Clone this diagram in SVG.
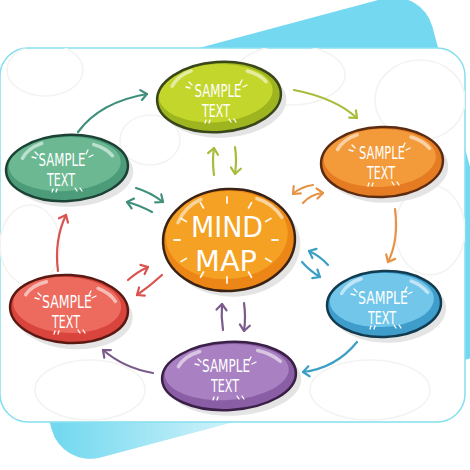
<svg xmlns="http://www.w3.org/2000/svg" width="470" height="470" viewBox="0 0 470 470">
<defs>
<style>
.card{fill:#ffffff;stroke:#86dff0;stroke-width:1.5}
.doodle{fill:none;stroke:#f3f3f1;stroke-width:1.6}
.shadow{fill:#e4e4e4}
.outline{fill:none;stroke-width:2.5}
.hl{fill:none;stroke:#ffffff;stroke-opacity:0.55;stroke-width:3.5;stroke-linecap:round}
.spark{fill:none;stroke:#ffffff;stroke-width:1.3;stroke-linecap:round}
.lbl{fill:#ffffff;font-family:"Liberation Sans Narrow","DejaVu Sans Condensed","Liberation Sans",sans-serif;font-size:18px;text-anchor:middle}
.big{font-size:29px}
.con{fill:none;stroke-width:2.2;stroke-linecap:round}
.tick{stroke:#ffffff;stroke-width:1.8;stroke-linecap:round;stroke-opacity:0.9}
</style>
<linearGradient id="fadeg" gradientUnits="userSpaceOnUse" x1="60" y1="0" x2="280" y2="0">
<stop offset="0" stop-color="#ffffff" stop-opacity="0"/>
<stop offset="1" stop-color="#ffffff" stop-opacity="0.85"/>
</linearGradient>
<clipPath id="bgclip"><rect x="6" y="43" width="472" height="370" rx="40" transform="rotate(-15 242 228)"/></clipPath>
<clipPath id="cardclip"><rect x="0" y="48" width="465" height="374" rx="28"/></clipPath>
<marker id="m-teal" viewBox="-8 -7 10 14" markerWidth="10" markerHeight="14" refX="0" refY="0" orient="auto" markerUnits="userSpaceOnUse"><path d="M-6,-5 L0,0 L-6,5" fill="none" stroke="#3f8f7c" stroke-width="2.2" stroke-linecap="round" stroke-linejoin="round"/></marker>
<marker id="m-lime" viewBox="-8 -7 10 14" markerWidth="10" markerHeight="14" refX="0" refY="0" orient="auto" markerUnits="userSpaceOnUse"><path d="M-6,-5 L0,0 L-6,5" fill="none" stroke="#a6bd3c" stroke-width="2.2" stroke-linecap="round" stroke-linejoin="round"/></marker>
<marker id="m-orange" viewBox="-8 -7 10 14" markerWidth="10" markerHeight="14" refX="0" refY="0" orient="auto" markerUnits="userSpaceOnUse"><path d="M-6,-5 L0,0 L-6,5" fill="none" stroke="#e69345" stroke-width="2.2" stroke-linecap="round" stroke-linejoin="round"/></marker>
<marker id="m-blue" viewBox="-8 -7 10 14" markerWidth="10" markerHeight="14" refX="0" refY="0" orient="auto" markerUnits="userSpaceOnUse"><path d="M-6,-5 L0,0 L-6,5" fill="none" stroke="#3b9fc4" stroke-width="2.2" stroke-linecap="round" stroke-linejoin="round"/></marker>
<marker id="m-purple" viewBox="-8 -7 10 14" markerWidth="10" markerHeight="14" refX="0" refY="0" orient="auto" markerUnits="userSpaceOnUse"><path d="M-6,-5 L0,0 L-6,5" fill="none" stroke="#7b5a8c" stroke-width="2.2" stroke-linecap="round" stroke-linejoin="round"/></marker>
<marker id="m-red" viewBox="-8 -7 10 14" markerWidth="10" markerHeight="14" refX="0" refY="0" orient="auto" markerUnits="userSpaceOnUse"><path d="M-6,-5 L0,0 L-6,5" fill="none" stroke="#d9534f" stroke-width="2.2" stroke-linecap="round" stroke-linejoin="round"/></marker>
</defs>

<!-- background -->
<g id="backdrop">
<rect x="6" y="43" width="472" height="370" rx="40" transform="rotate(-15 242 228)" fill="#74d9f0"/>
<rect x="0" y="405" width="470" height="65" fill="url(#fadeg)" clip-path="url(#bgclip)"/>
<rect class="card" x="0" y="48" width="465" height="374" rx="28"/>
<g clip-path="url(#cardclip)">
<ellipse class="doodle" cx="45" cy="70" rx="38" ry="26"/>
<ellipse class="doodle" cx="290" cy="75" rx="55" ry="30"/>
<ellipse class="doodle" cx="420" cy="100" rx="45" ry="40"/>
<ellipse class="doodle" cx="30" cy="245" rx="30" ry="40"/>
<ellipse class="doodle" cx="430" cy="230" rx="35" ry="45"/>
<ellipse class="doodle" cx="90" cy="390" rx="55" ry="30"/>
<ellipse class="doodle" cx="370" cy="390" rx="60" ry="30"/>
<ellipse class="doodle" cx="150" cy="140" rx="30" ry="25"/>
</g>
</g>

<!-- connectors -->
<g id="connectors">
<path class="con" stroke="#3f8f7c" marker-end="url(#m-teal)" d="M78,132 Q100,102 147,94"/>
<path class="con" stroke="#a6bd3c" marker-end="url(#m-lime)" d="M294,90 Q335,98 357,118"/>
<path class="con" stroke="#e69345" marker-end="url(#m-orange)" d="M395,209 Q399,240 388,262"/>
<path class="con" stroke="#3b9fc4" marker-end="url(#m-blue)" d="M357,342 Q336,368 303,372"/>
<path class="con" stroke="#7b5a8c" marker-end="url(#m-purple)" d="M153,373 Q124,368 103,350"/>
<path class="con" stroke="#d9534f" marker-end="url(#m-red)" d="M58,271 Q54,240 66,215"/>
<path class="con" stroke="#a6bd3c" marker-end="url(#m-lime)" d="M214,175 Q212,160 214,148"/>
<path class="con" stroke="#a6bd3c" marker-end="url(#m-lime)" d="M235,147 Q237,160 235,174"/>
<path class="con" stroke="#3f8f7c" marker-end="url(#m-teal)" d="M136,188 Q150,192 163,202"/>
<path class="con" stroke="#3f8f7c" marker-end="url(#m-teal)" d="M152,212 Q139,205 127,202"/>
<path class="con" stroke="#e69345" marker-end="url(#m-orange)" d="M313,185 Q300,187 293,194"/>
<path class="con" stroke="#e69345" marker-end="url(#m-orange)" d="M303,203 Q311,194 323,193"/>
<path class="con" stroke="#3b9fc4" marker-end="url(#m-blue)" d="M328,265 Q320,256 309,251"/>
<path class="con" stroke="#3b9fc4" marker-end="url(#m-blue)" d="M302,262 Q310,271 320,277"/>
<path class="con" stroke="#d9534f" marker-end="url(#m-red)" d="M128,280 Q137,272 148,267"/>
<path class="con" stroke="#d9534f" marker-end="url(#m-red)" d="M162,275 Q150,286 137,295"/>
<path class="con" stroke="#7b5a8c" marker-end="url(#m-purple)" d="M223,330 Q221,317 222,304"/>
<path class="con" stroke="#7b5a8c" marker-end="url(#m-purple)" d="M244,303 Q246,317 244,331"/>
</g>

<!-- nodes -->
<g id="node-top" transform="translate(219,97)">
<g transform="rotate(-4)">
<ellipse class="shadow" cx="5" cy="6" rx="62" ry="35"/>
<ellipse cx="0" cy="0" rx="62" ry="35" fill="#9fb51f"/>
<ellipse cx="-3" cy="-4" rx="57" ry="29" fill="#c3d62c"/>
<ellipse class="outline" cx="0" cy="0" rx="62" ry="35" stroke="#38461a"/>
<path class="hl" d="M-46,-14 Q-40,-24 -26,-28"/>
<path class="hl" d="M30,-24 Q42,-20 48,-12"/>
</g>
<path class="spark" d="M-30,-15 l3,3 M-33,-10 l4,1 M23,-17 l-2,4 M28,-12 l-4,2 M-13,23 l-1,3 M-9,23 l-1,3 M10,22 l2,3 M15,22 l2,3"/>
<text class="lbl"><tspan x="-1" y="0" textLength="47" lengthAdjust="spacingAndGlyphs">SAMPLE</tspan><tspan x="-3" y="20" textLength="28" lengthAdjust="spacingAndGlyphs">TEXT</tspan></text>
</g>

<g id="node-left" transform="translate(67,168)">
<g transform="rotate(-3)">
<ellipse class="shadow" cx="5" cy="6" rx="61" ry="33"/>
<ellipse cx="0" cy="0" rx="61" ry="33" fill="#4c9c79"/>
<ellipse cx="-2" cy="-4" rx="56" ry="27" fill="#6bb892"/>
<ellipse class="outline" cx="0" cy="0" rx="61" ry="33" stroke="#1c4236"/>
<path class="hl" d="M-44,-12 Q-38,-22 -24,-26"/>
<path class="hl" d="M28,-22 Q40,-18 46,-10"/>
</g>
<path class="spark" d="M-32,-16 l3,3 M-35,-11 l4,1 M21,-18 l-2,4 M26,-13 l-4,2 M-14,21 l-1,3 M-10,21 l-1,3 M8,20 l2,3 M13,20 l2,3"/>
<text class="lbl"><tspan x="-5" y="-2" textLength="47" lengthAdjust="spacingAndGlyphs">SAMPLE</tspan><tspan x="-6" y="18" textLength="28" lengthAdjust="spacingAndGlyphs">TEXT</tspan></text>
</g>

<g id="node-right-top" transform="translate(382,162)">
<g transform="rotate(-2)">
<ellipse class="shadow" cx="5" cy="6" rx="61" ry="35"/>
<ellipse cx="0" cy="0" rx="61" ry="35" fill="#e57b22"/>
<ellipse cx="-2" cy="-4" rx="56" ry="29" fill="#f39a3a"/>
<ellipse class="outline" cx="0" cy="0" rx="61" ry="35" stroke="#5c2c12"/>
<path class="hl" d="M-44,-14 Q-38,-24 -24,-28"/>
<path class="hl" d="M30,-24 Q42,-20 48,-12"/>
</g>
<path class="spark" d="M-30,-17 l3,3 M-33,-12 l4,1 M23,-19 l-2,4 M28,-14 l-4,2 M-13,21 l-1,3 M-9,21 l-1,3 M10,20 l2,3 M15,20 l2,3"/>
<text class="lbl"><tspan x="0" y="-3" textLength="46" lengthAdjust="spacingAndGlyphs">SAMPLE</tspan><tspan x="-1" y="17" textLength="28" lengthAdjust="spacingAndGlyphs">TEXT</tspan></text>
</g>

<g id="node-center" transform="translate(229,240)">
<g transform="rotate(-3)">
<ellipse class="shadow" cx="5" cy="6" rx="66" ry="51"/>
<ellipse cx="0" cy="0" rx="66" ry="51" fill="#ec8616"/>
<ellipse cx="-2" cy="-5" rx="61" ry="44" fill="#f5a123"/>
<ellipse class="outline" cx="0" cy="0" rx="66" ry="51" stroke="#3a2314"/>
<path class="hl" d="M-50,-20 Q-42,-36 -26,-42"/>
<path class="hl" d="M30,-40 Q46,-34 54,-20"/>
</g>
<g transform="translate(-2,0)">
<line class="tick" x1="45" y1="0" x2="51" y2="0"/>
<line class="tick" x1="38.7" y1="18.5" x2="43.9" y2="21.5"/>
<line class="tick" x1="21.5" y1="32" x2="24.5" y2="37.2"/>
<line class="tick" x1="0" y1="37" x2="0" y2="43"/>
<line class="tick" x1="-23.5" y1="32" x2="-26.5" y2="37.2"/>
<line class="tick" x1="-40.7" y1="18.5" x2="-45.9" y2="21.5"/>
<line class="tick" x1="-47" y1="0" x2="-53" y2="0"/>
<line class="tick" x1="-40.7" y1="-18.5" x2="-45.9" y2="-21.5"/>
<line class="tick" x1="-23.5" y1="-32" x2="-26.5" y2="-37.2"/>
<line class="tick" x1="0" y1="-37" x2="0" y2="-43"/>
<line class="tick" x1="21.5" y1="-32" x2="24.5" y2="-37.2"/>
<line class="tick" x1="38.7" y1="-18.5" x2="43.9" y2="-21.5"/>
</g>
<text class="lbl big"><tspan x="-2" y="-3" textLength="72" lengthAdjust="spacingAndGlyphs">MIND</tspan><tspan x="-3" y="31" textLength="62" lengthAdjust="spacingAndGlyphs">MAP</tspan></text>
</g>

<g id="node-right-bottom" transform="translate(384,304)">
<g transform="rotate(-2)">
<ellipse class="shadow" cx="5" cy="6" rx="57" ry="33"/>
<ellipse cx="0" cy="0" rx="57" ry="33" fill="#3e9dcb"/>
<ellipse cx="-2" cy="-4" rx="52" ry="27" fill="#72c6ea"/>
<ellipse class="outline" cx="0" cy="0" rx="57" ry="33" stroke="#123b4f"/>
<path class="hl" d="M-42,-12 Q-36,-22 -22,-26"/>
<path class="hl" d="M28,-22 Q38,-18 44,-10"/>
</g>
<path class="spark" d="M-30,-15 l3,3 M-33,-10 l4,1 M23,-17 l-2,4 M28,-12 l-4,2 M-13,22 l-1,3 M-9,22 l-1,3 M10,21 l2,3 M15,21 l2,3"/>
<text class="lbl"><tspan x="-1" y="0" textLength="50" lengthAdjust="spacingAndGlyphs">SAMPLE</tspan><tspan x="-2" y="20" textLength="28" lengthAdjust="spacingAndGlyphs">TEXT</tspan></text>
</g>

<g id="node-left-bottom" transform="translate(69,309)">
<g transform="rotate(3)">
<ellipse class="shadow" cx="5" cy="6" rx="59" ry="34"/>
<ellipse cx="0" cy="0" rx="59" ry="34" fill="#d9443c"/>
<ellipse cx="-2" cy="-4" rx="54" ry="28" fill="#ec6a5e"/>
<ellipse class="outline" cx="0" cy="0" rx="59" ry="34" stroke="#5a1913"/>
<path class="hl" d="M-44,-12 Q-38,-22 -24,-26"/>
<path class="hl" d="M28,-22 Q40,-18 46,-10"/>
</g>
<path class="spark" d="M-31,-16 l3,3 M-34,-11 l4,1 M22,-18 l-2,4 M27,-13 l-4,2 M-14,22 l-1,3 M-10,22 l-1,3 M9,21 l2,3 M14,21 l2,3"/>
<text class="lbl"><tspan x="-2" y="-1" textLength="50" lengthAdjust="spacingAndGlyphs">SAMPLE</tspan><tspan x="-3" y="19" textLength="28" lengthAdjust="spacingAndGlyphs">TEXT</tspan></text>
</g>

<g id="node-bottom" transform="translate(229,376)">
<g transform="rotate(-3)">
<ellipse class="shadow" cx="5" cy="6" rx="67" ry="34"/>
<ellipse cx="0" cy="0" rx="67" ry="34" fill="#8a5ea4"/>
<ellipse cx="-2" cy="-4" rx="62" ry="28" fill="#a981c2"/>
<ellipse class="outline" cx="0" cy="0" rx="67" ry="34" stroke="#3a2046"/>
<path class="hl" d="M-50,-12 Q-44,-22 -28,-26"/>
<path class="hl" d="M30,-24 Q44,-20 52,-12"/>
</g>
<path class="spark" d="M-31,-17 l3,3 M-34,-12 l4,1 M22,-19 l-2,4 M27,-14 l-4,2 M-15,21 l-1,3 M-11,21 l-1,3 M8,20 l2,3 M13,20 l2,3"/>
<text class="lbl"><tspan x="-3" y="-4" textLength="48" lengthAdjust="spacingAndGlyphs">SAMPLE</tspan><tspan x="-4" y="16" textLength="28" lengthAdjust="spacingAndGlyphs">TEXT</tspan></text>
</g>
</svg>
